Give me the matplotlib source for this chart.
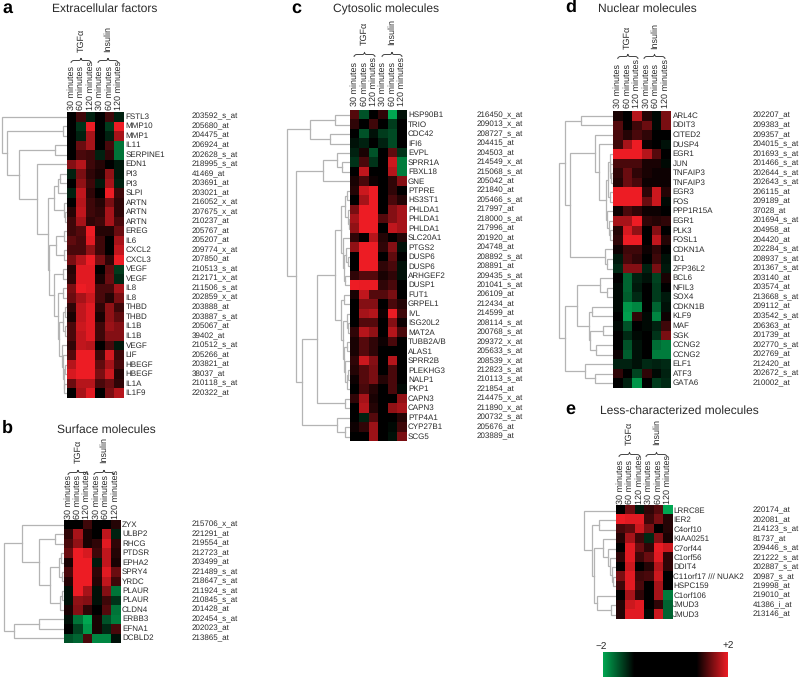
import numpy as np
import matplotlib
matplotlib.use('Agg')
import matplotlib.pyplot as plt
from matplotlib.colors import LinearSegmentedColormap
from matplotlib.path import Path
from matplotlib.patches import PathPatch

plt.rcParams['font.family'] = ['Liberation Sans', 'DejaVu Sans']
plt.rcParams['text.hinting'] = 'no_hinting'
plt.rcParams['text.hinting_factor'] = 1

COLUMNS = ['30 minutes', '60 minutes', '120 minutes', '30 minutes', '60 minutes', '120 minutes']

# panel a
genes_a = ['FSTL3', 'MMP10', 'MMP1', 'IL11', 'SERPINE1', 'EDN1', 'PI3', 'PI3', 'SLPI', 'ARTN', 'ARTN', 'ARTN',
           'EREG', 'IL6', 'CXCL2', 'CXCL3', 'VEGF', 'VEGF', 'IL8', 'IL8', 'THBD', 'THBD', 'IL1B', 'IL1B',
           'VEGF', 'LIF', 'HBEGF', 'HBEGF', 'IL1A', 'IL1F9']
probes_a = ['203592_s_at', '205680_at', '204475_at', '206924_at', '202628_s_at', '218995_s_at', '41469_at',
            '203691_at', '203021_at', '216052_x_at', '207675_x_at', '210237_at', '205767_at', '205207_at',
            '209774_x_at', '207850_at', '210513_s_at', '212171_x_at', '211506_s_at', '202859_x_at', '203888_at',
            '203887_s_at', '205067_at', '39402_at', '210512_s_at', '205266_at', '203821_at', '38037_at',
            '210118_s_at', '220322_at']
values_a = [
    [0, 1.25, -1.2, 0, 1.25, -1.2],
    [0, -1.3, 2, 0, -1.35, 2],
    [0, -1.2, 1.7, 0, -1.2, 1.7],
    [0, 1.45, 1.7, 0, 1.3, -1.7],
    [0, 1.3, 1.25, -1.2, 1.2, -1.7],
    [1.55, 1.75, 1.25, 1.15, 0, -1.15],
    [-1.2, 1.5, 1.2, 1.1, 1.6, -1.15],
    [0, 1.6, 1.25, -1.15, 1.7, -1.2],
    [-1.2, 1.8, 1.2, 0, 2, 1.25],
    [0, 1.75, 1.25, 1.15, 1.5, 1.2],
    [1.15, 1.8, 1.25, 1.2, 1.7, 1.2],
    [1.25, 1.7, 1.2, 1.25, 1.7, 1.3],
    [1.25, 1.35, 2, 1.15, 1.15, 1.45],
    [1.4, 1.3, 1.95, 1.25, 0, 1.7],
    [1.3, 1.3, 1.6, 1.25, 0, 1.8],
    [1.5, 1.75, 2, 1.5, 1.2, 2],
    [1.15, 1.95, 1.95, 0, 1.4, -1.35],
    [1.2, 1.95, 1.95, 1.1, 1.45, -1.25],
    [1.5, 2, 1.95, 1.3, 1.3, 1.7],
    [1.45, 1.7, 1.85, 1.3, 1.15, 1.5],
    [1.2, 1.8, 1.95, 1.2, 1.6, 1.25],
    [1.1, 1.8, 1.95, 1.1, 1.6, 1.4],
    [1.3, 1.85, 1.95, 1.25, 1.65, 1.55],
    [1.3, 1.8, 1.95, 1.25, 1.55, 1.55],
    [1.2, 1.8, 1.75, 0, 1.3, -1.15],
    [1.35, 2, 2, 1.25, 1.9, 1.25],
    [1.75, 2, 2, 1.4, 1.7, 1.3],
    [1.9, 2, 2, 1.5, 1.85, 1.15],
    [1.45, 1.75, 1.75, 1.3, 1.45, 1.2],
    [0, 1.7, 1.95, 0, 1.5, 1.75],
]
tree_a = (65, 0, (60, (3.5, 1, 2), (48, (11.5, 3, 4), (30, 5, (19,
    (13, (9, (7, 6, 7), 8), (3, 9, (2, 10, 11))),
    (18, (11, (3, 12, 13), (3, 14, 15)),
     (13, (4, 16, 17), (9, (4, 18, 19), (8, (4, (2, 20, 21), (2, 22, 23)), (5, 24, (3.5, 25, (3, (2, 26, 27), (2.5, 28, 29)))))))))))))

# panel b
genes_b = ['ZYX', 'ULBP2', 'RHCG', 'PTDSR', 'EPHA2', 'SPRY4', 'YRDC', 'PLAUR', 'PLAUR', 'CLDN4', 'ERBB3', 'EFNA1', 'DCBLD2']
probes_b = ['215706_x_at', '221291_at', '219554_at', '212723_at', '203499_at', '221489_s_at', '218647_s_at',
            '211924_s_at', '210845_s_at', '201428_at', '202454_s_at', '202023_at', '213865_at']
values_b = [
    [0, 0, 1.25, 0, 0, 1.15],
    [1.2, 1.7, 1.1, 0, 1.8, -1.2],
    [1.3, 1.6, 1.1, 1.2, 1.95, 1.2],
    [1.45, 2, 1.9, 1.25, 1.8, 1.15],
    [1.1, 2, 2, -1.15, 1.8, 1.1],
    [1.3, 2, 2, 1.2, 1.95, 1.45],
    [1.15, 2, 2, 1.15, 1.8, 1.25],
    [-1.1, 2, 1.7, -1.1, 1.55, -1.7],
    [-1.1, 1.6, 1.55, -1.1, 1.25, -1.3],
    [1.1, 1.55, 1.2, 0, 1.35, -1.7],
    [-1.1, -1.7, -2, 1.1, -1.5, -1.75],
    [0, -1.4, -1.9, 1.1, -1.25, 1.3],
    [-1.5, -1.6, 1.3, -1.8, -1.8, -1.1],
]
tree_b = (59.5, (42, 0, (25, (9, 1, 2), (13.5, (4.5, (2.5, 3, 4), (2, 5, 6)), (4, (1.5, 7, 8), 9)))),
          (50, (25, 10, 11), 12))

# panel c
genes_c = ['HSP90B1', 'TRIO', 'CDC42', 'IFI6', 'EVPL', 'SPRR1A', 'FBXL18', 'GNE', 'PTPRE', 'HS3ST1', 'PHLDA1', 'PHLDA1',
           'PHLDA1', 'SLC20A1', 'PTGS2', 'DUSP6', 'DUSP6', 'ARHGEF2', 'DUSP1', 'FUT1', 'GRPEL1', 'IVL', 'ISG20L2',
           'MAT2A', 'TUBB2A/B', 'ALAS1', 'SPRR2B', 'PLEKHG3', 'NALP1', 'PKP1', 'CAPN3', 'CAPN3', 'PTP4A1', 'CYP27B1', 'SCG5']
probes_c = ['216450_x_at', '209013_x_at', '208727_s_at', '204415_at', '204503_at', '214549_x_at', '215068_s_at',
            '205042_at', '221840_at', '205466_s_at', '217997_at', '218000_s_at', '217996_at', '201920_at', '204748_at',
            '208892_s_at', '208891_at', '209435_s_at', '201041_s_at', '206109_at', '212434_at', '214599_at',
            '208114_s_at', '200768_s_at', '209372_x_at', '205633_s_at', '208539_x_at', '212823_s_at', '210113_s_at',
            '221854_at', '214475_x_at', '211890_x_at', '200732_s_at', '205676_at', '203889_at']
values_c = [
    [1.35, -1.5, 0, 1.2, -2, -1.1],
    [1.2, 0, 1.25, 0, -1.35, 0],
    [0, -1.5, -1.1, -1.35, -1.45, 0],
    [-1.1, -1.2, 0, -1.2, -1.45, 0],
    [-1.2, 1.1, -1.5, 0, 1.4, -1.3],
    [-1.3, 1.3, -1.3, 0, 1.85, -1.75],
    [0, 1.8, 0, 0, 1.75, -1.75],
    [1.1, 1.3, 1.05, 0, 1.2, 1.55],
    [1.15, 1.85, 2, 0, 1.2, 0],
    [0, 1.7, 2, 0, 1.3, 1.15],
    [1.5, 2, 2, 0, 1.55, 1.7],
    [1.7, 2, 2, 1.35, 1.55, 1.7],
    [1.6, 2, 2, 0, 1.8, 1.7],
    [1.2, 0, 1.75, 1.15, 0, 1.15],
    [1.6, 2, 2, 1.2, 1.55, -1.1],
    [0, 2, 2, 0, 1.4, 0],
    [0, 2, 2, 1.2, 1.3, -1.1],
    [1.2, 1.35, 1.35, 1.1, 1.2, -1.1],
    [2, 1.98, 1.98, 1.2, 1.3, 0],
    [1.1, 1.8, 1.35, 1.35, 1.5, 0],
    [0, 1.55, 1.55, 0, 1.3, 1.15],
    [0, 1.7, 1.75, 1.05, 2, 1.25],
    [0, 1.35, 1.35, 0, 1.55, 1.05],
    [1.2, 1.75, 1.6, 0, 1.75, 1.3],
    [1.1, 1.35, 1.2, 1.05, 1.3, 0],
    [1.1, 1.35, 1.2, 0, 0, 0],
    [1.2, 1.85, 1.55, 0, 1.75, 0],
    [1.15, 1.35, 1.5, 0, 1.3, 0],
    [1.05, 1.35, 1.5, 1.15, 1.3, 0],
    [0, 1.3, 1.15, 0, 1.3, -1.05],
    [1.2, 1.7, 1.1, 0, 0, 1.6],
    [0, 1.75, 1.15, 0, 1.6, 1.7],
    [0, -1.2, 1.35, 0, 0, 1.15],
    [1.05, 1.2, 1.65, 0, -1.05, 1.25],
    [0, 0, 1.65, 0, -1.1, 1.5],
]
tree_c = (63, (40, (15, 0, 1), (20, 2, 3)),
          (54, (27, (13, 4, (8, 5, 6)), 7),
           (48, (33, (15, (9, (5, (3, 8, 9), (2, 10, (1.5, 11, 12))), (7, 13, (6, (4, 14, (2, 15, 16)), (5, 17, 18)))),
                      (9, (6, 19, 20), (7, (3, 21, (2, 22, 23)), (6, (3.5, 24, 25), (5, 26, (3, (2, 27, 28), 29)))))),
                 (5, 30, 31)),
            (13, 32, (5, 33, 34)))))

# panel d
genes_d = ['ARL4C', 'DDIT3', 'CITED2', 'DUSP4', 'EGR1', 'JUN', 'TNFAIP3', 'TNFAIP3', 'EGR3', 'FOS', 'PPP1R15A', 'EGR1',
           'PLK3', 'FOSL1', 'CDKN1A', 'ID1', 'ZFP36L2', 'BCL6', 'NFIL3', 'SOX4', 'CDKN1B', 'KLF9', 'MAF', 'SGK', 'CCNG2',
           'CCNG2', 'ELF1', 'ATF3', 'GATA6']
probes_d = ['202207_at', '209383_at', '209357_at', '204015_s_at', '201693_s_at', '201466_s_at', '202644_s_at',
            '202643_s_at', '206115_at', '209189_at', '37028_at', '201694_s_at', '204958_at', '204420_at', '202284_s_at',
            '208937_s_at', '201367_s_at', '203140_at', '203574_at', '213668_s_at', '209112_at', '203542_s_at',
            '206363_at', '201739_at', '202770_s_at', '202769_at', '212420_at', '202672_s_at', '210002_at']
values_d = [
    [1.1, 0, 1.75, 1.15, -1.05, 1.5],
    [1.35, 1.0, 1.25, 1.45, -1.05, 1.5],
    [1.3, 1.15, 1.3, 1.2, 0, 0],
    [1.25, 1.7, 2, 1.05, 0, -1.1],
    [2, 2, 2, 1.75, 1.35, 0],
    [1.3, 1.3, 1.3, 1.1, 1.1, -1.05],
    [1.2, 1.45, 1.2, 1.1, 1.05, 1.05],
    [1.15, 1.45, 1.3, 1.05, 1.05, 1.05],
    [2, 2, 2, 1.2, 1.85, 1.15],
    [2, 2, 2, 1.45, 1.85, -1.05],
    [1.05, 1.3, 1.2, 1.05, 1.05, 0],
    [1.7, 1.7, 2, 1.2, 1.15, 1.2],
    [1.15, 1.9, 1.6, 0, 1.55, 0],
    [1.2, 2, 2, 0, 1.8, 1.15],
    [1.05, 1.25, 1.25, 1.05, 1.2, 0],
    [-1.15, 1.3, 1.2, 0, 1.25, -1.1],
    [-1.25, 1.55, 1.55, -1.2, 1.5, -1.15],
    [1.0, -1.6, -1.2, -1.1, -1.4, 1.1],
    [-1.05, -1.6, -1.15, 0, -1.35, 0],
    [-1.05, -1.55, -1.25, 0, -1.35, -1.15],
    [-1.05, -1.9, -1.8, 0, -1.6, -1.1],
    [0, -1.95, 1.2, -1.05, -1.8, 1.05],
    [-1.05, -1.5, 0, -1.05, -1.2, 1.25],
    [1.0, -1.25, -1.05, 0, -1.3, 1.5],
    [0, -1.5, -1.1, 0, -1.65, -1.75],
    [1.05, -1.55, -1.1, 0, -1.75, -1.75],
    [-1.2, -1.2, -1.1, -1.25, -1.2, -1.25],
    [1.2, 0, -1.4, 1.2, -1.05, -1.2],
    [0, -1.2, -1.9, 0, -1.35, -1.25],
]
tree_d = (54,
          (48, (32, 0, 1),
           (43, (18, 2, (14, 3, (7, (5, (3, 4, (2.5, 5, (2, 6, 7))), (3, 8, 9)), (6, 10, (4, 11, (3, 12, 13)))))),
            (8, 14, (6, 15, 16)))),
          (48, (36, (13, 17, (6, 18, 19)), (24, (21, 20, 21), (23, (10, 22, 23), (17, 24, 25)))),
           (28, 26, (18, 27, 28))))

# panel e
genes_e = ['LRRC8E', 'IER2', 'C4orf10', 'KIAA0251', 'C7orf44', 'C1orf56', 'DDIT4', 'C11orf17 /// NUAK2', 'HSPC159',
           'C1orf106', 'JMUD3', 'JMUD3']
probes_e = ['220174_at', '202081_at', '214123_s_at', '81737_at', '209446_s_at', '221222_s_at', '202887_s_at',
            '20987_s_at', '219998_at', '219010_at', '41386_i_at', '213146_at']
values_e = [
    [0, 1.45, -1.15, 1.2, 1.35, -2],
    [2, 1.95, 1.95, 1.25, 1.5, 1.15],
    [1.3, 1.4, 1.85, 1.5, 0, 1.15],
    [1.15, 1.7, 1.25, -1.25, 1.55, 1.1],
    [0, 1.95, 1.45, 1.2, 1.98, 1.85],
    [1.2, 1.95, 1.25, 1.45, 1.95, 1.2],
    [0, 1.85, 0, 1.15, 1.75, 1.2],
    [1.5, 1.95, 1.25, 1.3, 1.85, 0],
    [1.25, 1.95, 1.3, 0, 1.7, 0],
    [0, 1.7, 1.2, 0, 1.7, -1.75],
    [1.15, 1.85, 1.95, 0, 1.2, -1.6],
    [1.15, 1.95, 1.95, -1.05, 1.85, -1.6],
]
tree_e = (32, 0, (24, (17, 1, 2), (22, (13, 3, (8, 4, (6, 5, (4, 6, (3, 7, 8))))), (19, 9, (5, 10, 11)))))

TREE_COLOR = '#b4b4b4'
TEXT_COLOR = '#2a2a2a'
cmap = LinearSegmentedColormap.from_list('gbr', [(0, '#00a651'), (0.25, '#000000'), (0.75, '#000000'), (1, '#ed1c24')])


def draw_tree(ax, node, left, top, row_h):
    # node is (height, child, child), a bare int is a heatmap row
    if isinstance(node, int):
        return 0, top + (node + 0.5) * row_h
    h, c1, c2 = node
    h1, y1 = draw_tree(ax, c1, left, top, row_h)
    h2, y2 = draw_tree(ax, c2, left, top, row_h)
    ax.plot([left - h1, left - h, left - h, left - h2], [y1, y1, y2, y2], color=TREE_COLOR, lw=0.9,
            solid_joinstyle='miter', zorder=1)
    return h, (y1 + y2) / 2


def brace(ax, x0, x1, y):
    # curly brace opening downwards, tip at the top
    mid = (x0 + x1) / 2
    verts = [(x0, y + 5), (x0, y + 2.5), (x0 + 3, y + 2.5), (mid - 2, y + 2.5), (mid, y + 2.5), (mid, y),
             (mid, y + 2.5), (mid + 2, y + 2.5), (x1 - 3, y + 2.5), (x1, y + 2.5), (x1, y + 5)]
    codes = [Path.MOVETO, Path.CURVE3, Path.CURVE3, Path.LINETO, Path.CURVE3, Path.CURVE3,
             Path.CURVE3, Path.CURVE3, Path.LINETO, Path.CURVE3, Path.CURVE3]
    ax.add_patch(PathPatch(Path(verts, codes), fc='none', ec='#444444', lw=0.7))


def panel(ax, letter, title, genes, probes, values, tree, left, right, top, row_h,
          title_xy, letter_xy, label_x, probe_x, col_y, brace_y, group_y, braces):
    n = len(genes)
    bottom = top + n * row_h
    ax.imshow(np.array(values, dtype=float), cmap=cmap, vmin=-2, vmax=2, aspect='auto', interpolation='nearest',
              extent=[left, right, bottom, top], zorder=2)
    draw_tree(ax, tree, left, top, row_h)
    ax.text(letter_xy[0], letter_xy[1], letter, fontsize=13, fontweight='bold', va='center', ha='left', color='black')
    ax.text(title_xy[0], title_xy[1], title, fontsize=8.3, va='center', ha='left', color=TEXT_COLOR)
    for i in range(n):
        y = top + (i + 0.5) * row_h
        ax.text(label_x, y, genes[i], fontsize=6, va='center', ha='left', color=TEXT_COLOR)
        ax.text(probe_x, y, probes[i], fontsize=5.9, va='center', ha='left', color=TEXT_COLOR)
    col_w = (right - left) / 6
    for j, name in enumerate(COLUMNS):
        ax.text(left + (j + 0.5) * col_w, col_y, name, fontsize=6.3, rotation=90, va='bottom', ha='center',
                color=TEXT_COLOR)
    for (x0, x1), name in zip(braces, ['TGF\u03b1', 'Insulin']):
        brace(ax, x0, x1, brace_y)
        ax.text((x0 + x1) / 2, group_y, name, fontsize=6.2, rotation=90, va='bottom', ha='center', color=TEXT_COLOR)


def main():
    fig = plt.figure(figsize=(8.00, 6.77), dpi=100)
    ax = fig.add_axes([0, 0, 1, 1])

    panel(ax, 'a', 'Extracellular factors', genes_a, probes_a, values_a, tree_a, 66.5, 123.5, 112, 9.53,
          (52.5, 9), (2, 8), 125.5, 191.5, 110, 58, 52, [(71, 91), (98, 118)])
    panel(ax, 'b', 'Surface molecules', genes_b, probes_b, values_b, tree_b, 63.5, 120, 520, 9.45,
          (57, 430), (2, 428), 122, 191.5, 519, 470, 463, [(68, 88), (94, 114)])
    panel(ax, 'c', 'Cytosolic molecules', genes_c, probes_c, values_c, tree_c, 350, 406.7, 110.5, 9.45,
          (332.7, 9), (291, 8), 408, 477, 105.5, 52, 45, [(354, 375), (382, 402)])
    panel(ax, 'd', 'Nuclear molecules', genes_d, probes_d, values_d, tree_d, 612.7, 670.3, 111, 9.55,
          (597.7, 9), (565, 7), 672.7, 752.7, 107.5, 54, 49, [(617.7, 638), (644, 665)])
    panel(ax, 'e', 'Less-characterized molecules', genes_e, probes_e, values_e, tree_e, 616, 672.3, 506, 9.45,
          (600, 411), (565, 409), 673.3, 752.7, 504, 452, 445, [(619, 640), (646, 667)])

    # colour key
    ax.imshow(np.linspace(-2, 2, 256).reshape(1, -1), cmap=cmap, vmin=-2, vmax=2, aspect='auto',
              extent=[603, 727.7, 677, 652.7], zorder=2)
    ax.text(601, 646, '\u22122', fontsize=7.5, ha='center', va='center', color=TEXT_COLOR)
    ax.text(728, 645, '+2', fontsize=7.5, ha='center', va='center', color=TEXT_COLOR)

    ax.set_xlim(0, 800)
    ax.set_ylim(677, 0)
    ax.axis('off')
    fig.savefig('out.png', dpi=100)


if __name__ == '__main__':
    main()
